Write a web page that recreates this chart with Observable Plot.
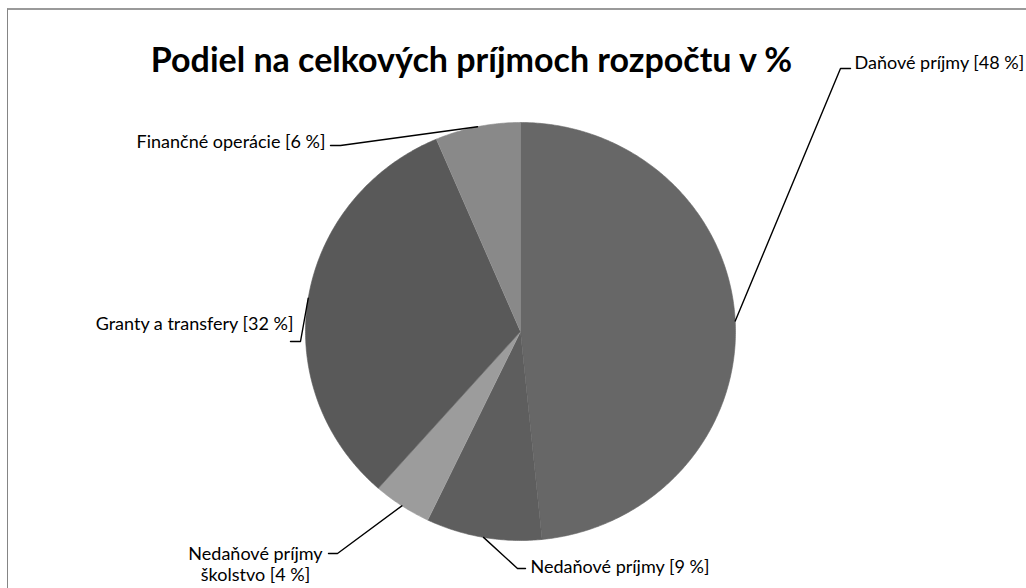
<!DOCTYPE html>
<html>
<head>
<meta charset="utf-8">
<script src="https://cdn.jsdelivr.net/npm/d3@7"></script>
<script src="https://cdn.jsdelivr.net/npm/@observablehq/plot@0.6"></script>
<style>
  html, body { margin: 0; padding: 0; background: #fff; overflow: hidden; }
  #wrap { position: relative; width: 1026px; height: 588px; overflow: hidden; }
  #chart { position: absolute; left: 0; top: 0; }
  #border { position: absolute; left: 7px; top: 8px; width: 1100px; height: 700px;
            border-top: 2px solid #9a9a9a; border-left: 1px solid #858585; pointer-events: none; }
</style>
</head>
<body>
<div id="wrap"><div id="chart"></div><div id="border"></div></div>
<script>
// ---- data ----
const title = "Podiel na celkových príjmoch rozpočtu v %";
const categories = ["Daňové príjmy", "Nedaňové príjmy", "Nedaňové príjmy školstvo", "Granty a transfery", "Finančné operácie"];
const values = [48.4, 8.7, 4.4, 32.1, 6.4];
const labels = ["Daňové príjmy [48 %]", "Nedaňové príjmy [9 %]", "Nedaňové príjmy\nškolstvo [4 %]", "Granty a transfery [32 %]", "Finančné operácie [6 %]"];
const colors = ["#676767", "#5e5e5e", "#9c9c9c", "#595959", "#898989"];

// ---- layout (pixels) ----
const W = 1026, H = 588;
const cx = 520, cy = 331, rx = 215, ry = 209;
// leader elbow, leader end, label anchor point, text anchor
const labelLayout = [
  {elbow: [840, 68], end: [850, 68], at: [854, 62], anchor: "start"},
  {elbow: [517, 568], end: [525, 568], at: [530, 566], anchor: "start"},
  {elbow: [337, 553], end: [328, 553], at: [255, 563], anchor: "middle"},
  {elbow: [300, 341], end: [290, 341], at: [293, 323], anchor: "end"},
  {elbow: [340, 145], end: [330, 145], at: [325, 141], anchor: "end"}
];
const toX = px => (px - cx) / rx;
const toY = py => (cy - py) / ry;

// ---- build slices ----
const arcs = d3.pie().sort(null).value(d => d)(values);
const slicePts = [];
arcs.forEach((a, i) => {
  slicePts.push({name: categories[i], x: 0, y: 0});
  const n = Math.max(8, Math.ceil((a.endAngle - a.startAngle) / 0.01));
  for (let k = 0; k <= n; k++) {
    const t = a.startAngle + (a.endAngle - a.startAngle) * k / n;
    slicePts.push({name: categories[i], x: Math.sin(t), y: Math.cos(t)});
  }
});

const leaderPts = [];
const labelRows = [];
arcs.forEach((a, i) => {
  const m = (a.startAngle + a.endAngle) / 2;
  const L = labelLayout[i];
  leaderPts.push({name: categories[i], x: Math.sin(m), y: Math.cos(m)});
  leaderPts.push({name: categories[i], x: toX(L.elbow[0]), y: toY(L.elbow[1])});
  leaderPts.push({name: categories[i], x: toX(L.end[0]), y: toY(L.end[1])});
  labelRows.push({text: labels[i], x: toX(L.at[0]), y: toY(L.at[1]), anchor: L.anchor});
});

const font = "Lato, 'Open Sans', sans-serif";
const textMark = anchor => Plot.text(labelRows.filter(d => d.anchor === anchor), {
  x: "x", y: "y", text: "text", textAnchor: anchor, lineAnchor: "middle", fill: "#000",
  fontSize: 18, fontFamily: font, lineHeight: 1.2
});

const chart = Plot.plot({
  width: W, height: H,
  margin: 0,
  x: {domain: [-1, 1], range: [cx - rx, cx + rx], axis: null},
  y: {domain: [-1, 1], range: [cy + ry, cy - ry], axis: null},
  color: {type: "ordinal", domain: categories, range: colors},
  style: {background: "white", fontFamily: font},
  marks: [
    Plot.line(slicePts, {x: "x", y: "y", z: "name", fill: "name", stroke: "name", strokeWidth: 0.6, curve: "linear"}),
    Plot.line(leaderPts, {x: "x", y: "y", z: "name", stroke: "#000", strokeWidth: 1.4, curve: "linear"}),
    textMark("start"), textMark("end"), textMark("middle"),
    Plot.text([title], {frameAnchor: "top-left", dx: 471, dy: 61, text: d => d, textAnchor: "middle", lineAnchor: "middle",
      fontSize: 34, fontWeight: "bold", fontFamily: font, fill: "#000"})
  ]
});
document.getElementById("chart").appendChild(chart);
</script>
</body>
</html>
